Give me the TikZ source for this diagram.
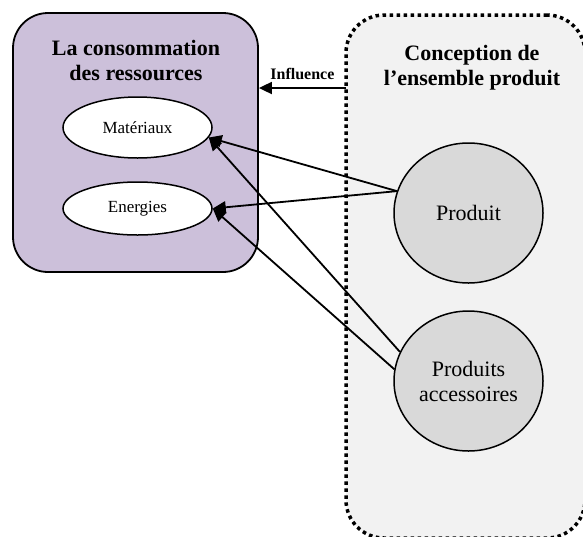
\documentclass[tikz,border=0pt]{standalone}
\usepackage{fontspec}
\setmainfont{Liberation Serif}
\usetikzlibrary{arrows.meta,positioning,shapes.geometric}
\definecolor{lavande}{HTML}{CCC0DA}
\definecolor{grisclair}{HTML}{F2F2F2}
\definecolor{grismoyen}{HTML}{D9D9D9}
\tikzset{
  zone/.style={draw=black, line width=1.8pt, rounded corners=35pt, fill=lavande,
    minimum width=245pt, minimum height=259pt},
  cadre/.style={draw=black, line width=3.5pt, dash pattern=on 3.5pt off 3.5pt,
    rounded corners=38pt, fill=grisclair, minimum width=239pt, minimum height=523pt},
  titre/.style={align=center, font=\fontsize{22}{25}\selectfont\bfseries},
  res/.style={ellipse, draw=black, line width=1.5pt, fill=white, inner sep=0pt,
    minimum width=149pt, font=\fontsize{17}{20}\selectfont},
  prod/.style={ellipse, draw=black, line width=1.5pt, fill=grismoyen, inner sep=0pt,
    minimum width=149pt, minimum height=140pt, align=center,
    font=\fontsize{22}{25}\selectfont},
  fleche/.style={-{Triangle[length=13pt,width=12pt]}, line width=1.8pt}
}
\begin{document}
\begin{tikzpicture}[x=1pt, y=-1pt]
  \useasboundingbox (0,0) rectangle (583,536);
  % les deux zones
  \node[zone] (ress) at (135.5,142.5) {};
  \node[cadre] (concep) at (465.5,276.5) {};
  \node[titre] (tress) at (136,60) {La consommation\\des ressources};
  \node[titre] (tconcep) at (472,68) {Conception de\\l'ensemble produit};

  \node[res, minimum height=61pt] (mat) at (137.5,127.5) {Matériaux};
  \node[res, minimum height=53pt] (ener) at (137.5,208.5) {Energies};
  \node[prod] (produit) at (468.5,213) {Produit};
  \node[prod] (access) at (468.5,381) {Produits\\accessoires};

  \coordinate (infl) at (346,88);
  \draw[fleche] (infl) -- node[above=5pt, inner sep=2pt, font=\fontsize{16}{18}\selectfont\bfseries] {Influence} (infl -| ress.east);

  \draw[fleche] (produit.163) -- (mat.-8);
  \draw[fleche] (produit.163) -- (ener.east);
  \draw[fleche] (access.157) -- (mat.-8);
  \draw[fleche] (access.171) -- (ener.east);
\end{tikzpicture}
\end{document}
